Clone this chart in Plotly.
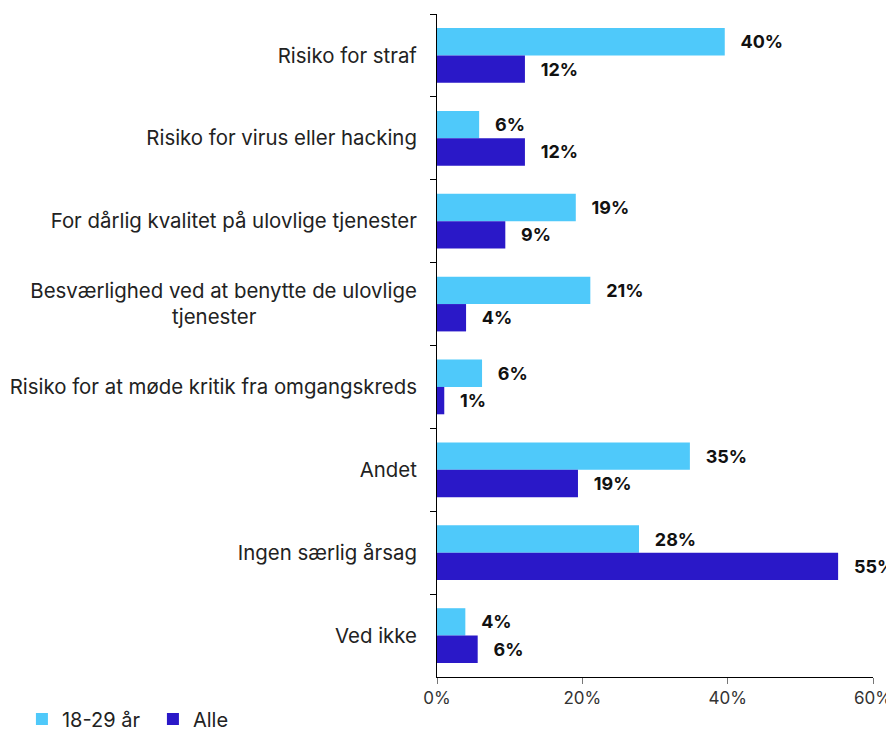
import plotly.graph_objects as go

categories = [
    "Risiko for straf",
    "Risiko for virus eller hacking",
    "For dårlig kvalitet på ulovlige tjenester",
    "Besværlighed ved at benytte de ulovlige<br>tjenester" + "\u00a0" * 28,
    "Risiko for at møde kritik fra omgangskreds",
    "Andet",
    "Ingen særlig årsag",
    "Ved ikke",
]
young = [39.6, 5.8, 19.1, 21.1, 6.2, 34.8, 27.8, 3.9]
alle = [12.1, 12.1, 9.4, 4.0, 1.0, 19.4, 55.2, 5.6]
series_names = ["18-29 år", "Alle"]
x_ticks = [0, 20, 40, 60]
x_ticktext = [f"{v}%" for v in x_ticks]

c_young = "#4FC9FA"
c_alle = "#2A18C8"
FONT = "Inter"

W, H = 930, 800
L, T = 429, 6
PW, PH = 436, 663

fig = go.Figure()
for name, vals, col in [(series_names[0], young, c_young), (series_names[1], alle, c_alle)]:
    fig.add_trace(go.Bar(
        y=categories, x=vals, name=name, orientation="h",
        marker=dict(color=col, line=dict(width=0)),
        texttemplate="\u00a0\u00a0\u00a0%{x:.0f}%",
        textposition="outside",
        textfont=dict(family=FONT, size=18, color="#111111", weight="bold"),
        cliponaxis=False,
    ))

fig.update_layout(
    barmode="group",
    bargap=0.34,
    bargroupgap=0,
    width=W, height=H,
    margin=dict(l=L, r=W - L - PW, t=T, b=H - T - PH, autoexpand=False),
    plot_bgcolor="white", paper_bgcolor="white",
    font=dict(family=FONT, size=20, color="#222222"),
    showlegend=True,
    legend=dict(
        orientation="h", xref="paper", yref="paper",
        x=-0.952, y=-0.0635, xanchor="left", yanchor="middle",
        font=dict(size=20, color="#222222"), traceorder="normal",
        itemwidth=30, entrywidth=86,
    ),
)
fig.update_xaxes(
    range=[0, 60], tickvals=x_ticks, ticktext=x_ticktext,
    showgrid=False, zeroline=False, automargin=False,
    showline=True, linecolor="#000000", linewidth=1,
    ticks="outside", ticklen=6, tickcolor="#777777",
    tickfont=dict(size=17, color="#333333"),
)
fig.update_yaxes(
    autorange="reversed", automargin=False,
    showgrid=False, showline=True, linecolor="#000000", linewidth=1,
    ticks="outside", tickson="boundaries", ticklen=6, tickcolor="#000000",
    ticklabelstandoff=15,
    tickfont=dict(size=20.4, color="#222222"),
)

fig.write_html("out.html")
